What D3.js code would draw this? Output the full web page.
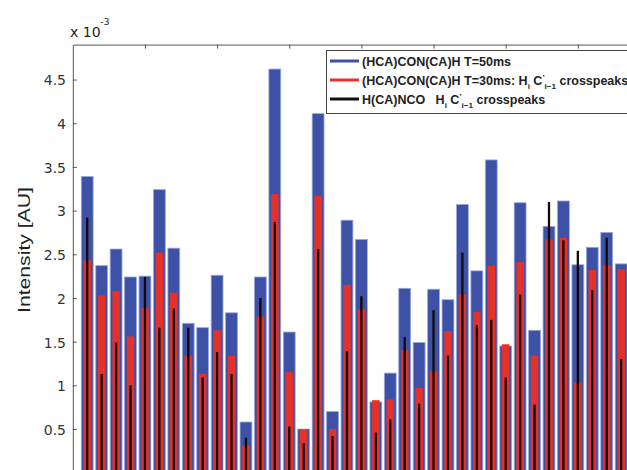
<!DOCTYPE html>
<html>
<head>
<meta charset="utf-8">
<script src="https://d3js.org/d3.v7.min.js"></script>
<style>
  body { margin: 0; background: #fff; }
  svg { display: block; }
</style>
</head>
<body>
<svg id="drawing_region"></svg>
<script>
// residue index (x) and intensities in units of 1e-3
const residues = [1,2,3,4,5,6,7,8,9,10,11,12,13,14,15,16,17,18,19,20,
                  21,22,23,24,25,26,27,28,29,30,31,32,33,34,35,36,37,38];
const t50 = [3.39,2.37,2.56,2.24,2.25,3.24,2.57,1.71,1.66,2.26,1.83,0.58,2.24,4.62,1.61,0.50,4.11,0.70,2.89,2.67,
             0.81,1.14,2.11,1.49,2.10,1.98,3.07,2.31,3.58,1.45,3.09,1.63,2.82,3.11,2.38,2.58,2.75,2.39];
const t30 = [2.43,2.03,2.08,1.56,1.89,2.52,2.06,1.34,1.13,1.63,1.34,0.31,1.79,3.19,1.15,0.49,3.17,0.50,2.15,1.87,
             0.83,0.84,1.40,0.97,1.16,1.62,2.04,1.84,2.37,1.47,2.41,1.34,2.67,2.69,1.03,2.32,2.38,2.33];
const hcanco = [2.92,1.13,1.49,1.00,2.24,1.66,1.88,1.66,1.09,1.38,1.13,0.40,2.00,2.87,0.53,0.34,2.56,0.42,1.39,2.02,
                0.46,0.61,1.55,0.79,1.86,1.34,2.52,1.69,1.75,1.09,2.04,0.78,3.10,2.66,2.54,2.09,2.69,1.30];
const xTicks = [5,10,15,20,25,30,35];
const yTicks = [0.5,1,1.5,2,2.5,3,3.5,4,4.5];

const data = residues.map((r, i) => ({ res: r, blue: t50[i], red: t30[i], black: hcanco[i] }));

class BarChart {
    constructor( config, data ) {
        this.config = config;
        this.data = data;
        this.init();
    }

    init() {
        let self = this;
        self.svg = d3.select( self.config.parent )
            .attr('width', self.config.width)
            .attr('height', self.config.height);

        // plot area runs past the right and bottom edge of the picture
        self.xscale = d3.scaleLinear()
            .domain([0, 40])
            .range([72.8, 72.8 + 40 * 14.43]);
        self.yscale = d3.scaleLinear()
            .domain([0, 4.9])
            .range([472.7, 44.6]);

        self.chart = self.svg.append('g');
    }

    render() {
        let self = this;
        const x = self.xscale, y = self.yscale;
        const unit = x(1) - x(0);

        self.chart.selectAll('rect.blue')
            .data(self.data)
            .join('rect')
            .attr('class', 'blue')
            .attr('x', d => x(d.res) - unit * 0.41)
            .attr('width', unit * 0.82)
            .attr('y', d => y(d.blue))
            .attr('height', d => y(0) - y(d.blue))
            .attr('fill', '#3d52a6')
            .attr('stroke', '#9aa8d8')
            .attr('stroke-width', 0.8);

        self.chart.selectAll('rect.red')
            .data(self.data)
            .join('rect')
            .attr('class', 'red')
            .attr('x', d => x(d.res) - unit * 0.26)
            .attr('width', unit * 0.52)
            .attr('y', d => y(d.red))
            .attr('height', d => y(0) - y(d.red))
            .attr('fill', '#e4322b');

        self.chart.selectAll('rect.black')
            .data(self.data)
            .join('rect')
            .attr('class', 'black')
            .attr('x', d => x(d.res) - unit * 0.08)
            .attr('width', unit * 0.16)
            .attr('y', d => y(d.black))
            .attr('height', d => y(0) - y(d.black))
            .attr('fill', '#140808');

        // left axis, ticks pointing inward
        const yaxis = d3.axisRight(y)
            .tickValues(yTicks)
            .tickSize(4)
            .tickSizeOuter(0)
            .tickFormat('');
        const yg = self.svg.append('g')
            .attr('transform', `translate(${x(0)},0)`)
            .call(yaxis);
        yg.select('.domain').attr('stroke', '#555');
        yg.selectAll('.tick line').attr('stroke', '#555');

        self.svg.append('g')
            .selectAll('text')
            .data(yTicks)
            .join('text')
            .attr('x', 66)
            .attr('y', d => y(d))
            .attr('dy', '0.42em')
            .attr('text-anchor', 'end')
            .attr('font-family', 'DejaVu Sans, sans-serif')
            .attr('font-size', 14)
            .attr('fill', '#333')
            .text(d => d);

        // top axis, ticks pointing down
        const xaxis = d3.axisBottom(x)
            .tickValues(xTicks)
            .tickSize(4)
            .tickSizeOuter(0)
            .tickFormat('');
        const xg = self.svg.append('g')
            .attr('transform', `translate(0,${y(4.9)})`)
            .call(xaxis);
        xg.select('.domain').attr('stroke', '#555');
        xg.selectAll('.tick line').attr('stroke', '#555');

        // exponent label
        const ex = self.svg.append('text')
            .attr('x', 70)
            .attr('y', 36.5)
            .attr('font-family', 'DejaVu Sans, sans-serif')
            .attr('font-size', 14)
            .attr('fill', '#222')
            .text('x 10');
        ex.append('tspan')
            .attr('dy', -12)
            .attr('font-size', 9)
            .text('-3');

        // y label
        self.svg.append('text')
            .attr('transform', 'translate(30,250) rotate(-90)')
            .attr('text-anchor', 'middle')
            .attr('font-family', 'Liberation Sans, Arial, sans-serif')
            .attr('font-size', 16)
            .attr('textLength', 126)
            .attr('lengthAdjust', 'spacingAndGlyphs')
            .attr('fill', '#222')
            .text('Intensity [AU]');

        self.legend();
    }

    legend() {
        let self = this;
        const lg = self.svg.append('g');
        lg.append('rect')
            .attr('x', 326.5).attr('y', 50.5)
            .attr('width', 320).attr('height', 63)
            .attr('fill', '#fff')
            .attr('stroke', '#444')
            .attr('stroke-width', 1);

        const items = [
            { color: '#3d52a6', y: 61 },
            { color: '#e4322b', y: 80 },
            { color: '#111', y: 99 }
        ];
        lg.selectAll('line')
            .data(items)
            .join('line')
            .attr('x1', 330).attr('x2', 359)
            .attr('y1', d => d.y).attr('y2', d => d.y)
            .attr('stroke', d => d.color)
            .attr('stroke-width', 3);

        const font = (t) => t
            .attr('font-family', 'Liberation Sans, Arial, sans-serif')
            .attr('font-weight', 'bold')
            .attr('font-size', 12.5)
            .attr('fill', '#222');

        font(lg.append('text').attr('x', 362).attr('y', 65.5))
            .text('(HCA)CON(CA)H T=50ms');

        // H_i C'_{i-1}
        const crosspeak = (t) => {
            t.append('tspan').text('H');
            t.append('tspan').attr('dy', 4).attr('font-size', 8).text('i');
            t.append('tspan').attr('dy', -4).text(' C');
            t.append('tspan').attr('dy', -5).attr('font-size', 8).text('\u2019');
            t.append('tspan').attr('dy', 9).attr('font-size', 8).text('i\u22121');
            t.append('tspan').attr('dy', -4).text(' crosspeaks');
        };

        const t2 = font(lg.append('text').attr('x', 362).attr('y', 84.5));
        t2.append('tspan').text('(HCA)CON(CA)H T=30ms: ');
        crosspeak(t2);

        const t3 = font(lg.append('text').attr('x', 362).attr('y', 103.5)).attr('xml:space', 'preserve');
        t3.append('tspan').text('H(CA)NCO   ');
        crosspeak(t3);
    }
}

const chart = new BarChart({
    parent: '#drawing_region',
    width: 627,
    height: 470
}, data);
chart.render();
</script>
</body>
</html>
